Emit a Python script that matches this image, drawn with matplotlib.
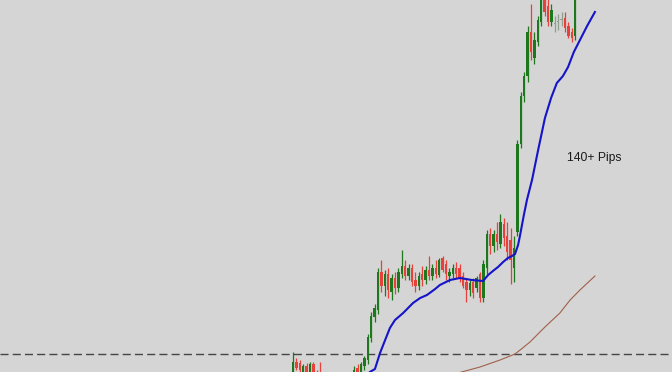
import matplotlib
matplotlib.use("Agg")
import matplotlib.pyplot as plt
import numpy as np

# OHLC candles (price units, arbitrary pip scale)
opens  = [0,10,9,0,6,-2,8,-2,-2,-10,-14,-12,-16,-20,-14,-10,-12,-6,-8,4,-2,6,12,34,55,62,
          100,86,98,80,94,84,98,106,96,104,92,86,98,92,102,96,104,97,114,108,96,98,104,104,
          96,90,82,90,84,98,74,104,138,126,138,128,148,136,132,104,140,228,276,296,340,314,
          330,350,372,366,350,348,350,352,354,346,340,336]
highs  = [20,14,12,8,9,10,10,2,10,-4,-8,-6,-10,-12,-6,-4,-2,0,6,8,10,16,38,60,68,104,
          112,102,104,98,100,104,122,112,108,108,100,100,106,106,116,108,112,114,116,112,104,108,110,108,
          100,94,92,94,96,100,112,142,144,142,150,158,154,150,144,136,232,280,300,346,368,340,
          356,376,380,374,368,356,358,360,360,350,344,390]
lows   = [-8,2,-2,-4,-6,-6,-4,-12,-14,-18,-22,-20,-24,-26,-18,-16,-16,-12,-12,-4,-4,2,8,30,50,58,
          80,76,74,72,78,80,94,92,92,86,80,82,86,88,92,92,94,95,100,92,90,94,94,90,
          84,70,76,74,80,70,70,98,118,120,122,124,126,112,88,90,136,224,270,290,312,308,
          326,346,356,346,346,340,342,346,340,334,330,332]
closes = [10,4,2,6,-2,8,-2,-8,-10,-14,-12,-16,-20,-14,-10,-12,-6,-8,2,-2,8,14,35,56,64,100,
          86,98,82,94,84,100,106,96,104,90,86,96,92,102,96,104,98,112,102,98,100,104,98,94,
          86,82,89,79,94,74,108,138,126,138,130,150,134,120,112,124,228,276,296,340,320,332,
          352,372,360,350,362,348,350,352,344,336,334,386]

# Moving averages (candle position, value)
fast_ma_idx = [21.9, 22.6, 24.1, 25.6, 27.1, 28.5, 30.0, 32.4, 35.3, 37.4, 39.4, 41.8, 43.2,
               46.2, 49.1, 52.6, 55.9, 57.4, 58.8, 60.3, 61.8, 63.2, 64.4, 65.3, 66.2, 66.8,
               67.9, 68.8, 70.3, 72.1, 74.1, 75.9, 77.6, 79.4, 80.9, 82.6, 84.4, 86.5, 88.8]
fast_ma_val = [-4, 0, 3, 19, 32, 44, 52, 59, 69, 74, 77, 83, 87,
               92, 94, 92, 91, 97, 101, 105, 110, 114, 116, 118, 127, 137,
               157, 172, 192, 222, 254, 274, 289, 296, 305, 320, 332, 346, 360]
slow_ma_idx = [48.5, 55.0, 60.9, 65.3, 66.8, 69.7, 74.1, 78.5, 81.5, 84.4, 88.8]
slow_ma_val = [-1, 5, 12, 18, 22, 30, 45, 59, 72, 82, 96]

level = 18
label = "140+ Pips"

W, H = 672, 372
fig = plt.figure(figsize=(W/100, H/100), dpi=100)
ax = fig.add_axes([0, 0, 1, 1])
bg = "#d5d5d5"
fig.patch.set_facecolor(bg)
ax.set_facecolor(bg)

px_per_bar = 3.4
x0_px = 293
ax.set_xlim(-x0_px/px_per_bar, (W - x0_px)/px_per_bar)
ax.set_ylim(0, 372)
ax.axis("off")

ax.axhline(level, color="#454545", lw=1.0, dashes=(5.8, 3.0), zorder=1)

green = "#1d781d"
red = "#e8403a"
gray = "#8f9f8f"
idx = np.arange(len(opens))
for i, o, h, l, c in zip(idx, opens, highs, lows, closes):
    if c > o:
        col = green
    elif c < o:
        col = red
    else:
        col = gray
    ax.vlines(i, l, h, color=col, lw=0.9, zorder=2)
    bottom = min(o, c)
    height = max(abs(c - o), 1.2)
    ax.bar(i, height, bottom=bottom, width=0.72, color=col, lw=0, zorder=3)

ax.plot(fast_ma_idx, fast_ma_val, color="#1414c8", lw=1.5, zorder=4,
        solid_joinstyle="round")
ax.plot(slow_ma_idx, slow_ma_val, color="#a0604a", lw=0.8, zorder=4)

ax.text((567 - x0_px)/px_per_bar, 372 - 158, label, fontsize=8.7,
        family="Liberation Sans", color="#1a1a1a", va="center", ha="left")

fig.savefig("out.png", dpi=100, facecolor=bg)
